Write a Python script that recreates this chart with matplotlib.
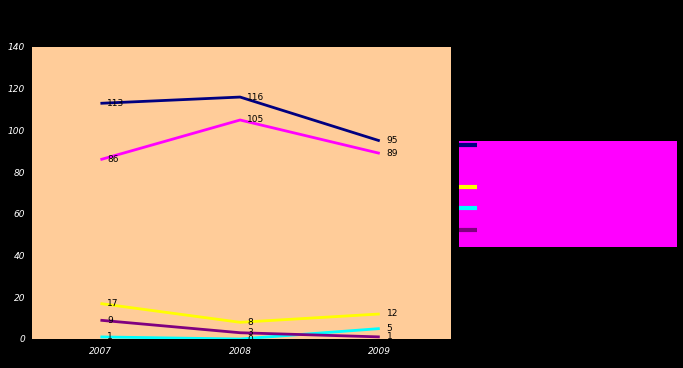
import matplotlib
matplotlib.use("Agg")
import matplotlib.pyplot as plt
from matplotlib.lines import Line2D

# data
years = ["2007", "2008", "2009"]
navy_vals = [113, 116, 95]
magenta_vals = [86, 105, 89]
yellow_vals = [17, 8, 12]
cyan_vals = [1, 0, 5]
purple_vals = [9, 3, 1]
y_ticks = [0, 20, 40, 60, 80, 100, 120, 140]

series = [
    (navy_vals, "#000080"),
    (magenta_vals, "#FF00FF"),
    (yellow_vals, "#FFFF00"),
    (cyan_vals, "#00FFFF"),
    (purple_vals, "#800080"),
]

W, H = 683, 368
fig = plt.figure(figsize=(W / 100, H / 100), dpi=100, facecolor="black")

# plot area
ax = fig.add_axes([32 / W, 1 - 339 / H, 419 / W, 292 / H])
ax.set_facecolor("#FFCC99")
for s in ax.spines.values():
    s.set_visible(False)

x = list(range(len(years)))
for vals, col in series:
    ax.plot(x, vals, color=col, lw=2.0, solid_capstyle="butt")
    for xi, v in zip(x, vals):
        ax.annotate(str(v), (xi, v), xytext=(5, 0), textcoords="offset points",
                    ha="left", va="center", fontsize=6.5, color="black")

ax.set_xlim(-0.49, 2.51)
ax.set_ylim(0, 140)
ax.set_xticks(x)
ax.set_xticklabels(years)
ax.set_yticks(y_ticks)
ax.tick_params(length=0, colors="white", labelsize=6.5)
ax.tick_params(axis="y", pad=5)
ax.tick_params(axis="x", pad=6)
for lab in ax.get_xticklabels() + ax.get_yticklabels():
    lab.set_fontstyle("italic")

# legend box (text is invisible in the reference)
lax = fig.add_axes([459 / W, 1 - 247 / H, 218 / W, 106 / H])
lax.set_facecolor("#FF00FF")
lax.set_xticks([])
lax.set_yticks([])
for s in lax.spines.values():
    s.set_visible(False)
handles = [Line2D([0], [0], color=col, lw=3, solid_capstyle="butt") for _, col in series]
lax.legend(handles, [""] * len(handles), loc="upper left", frameon=False,
           borderaxespad=0, borderpad=0.0, handlelength=1.6, handletextpad=0.3,
           fontsize=8, labelspacing=1.0)

fig.savefig("out.png", dpi=100, facecolor="black")
